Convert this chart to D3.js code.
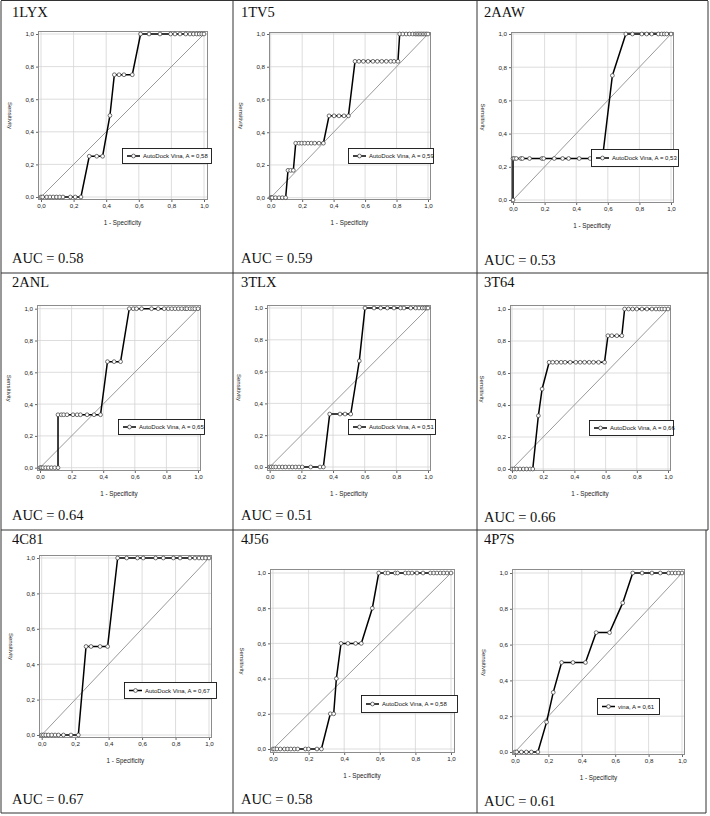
<!DOCTYPE html>
<html><head><meta charset="utf-8">
<script src="https://cdn.jsdelivr.net/npm/d3@7"></script>
<style>body{margin:0;background:#fff}svg{display:block}</style>
</head><body>
<svg id="c" width="710" height="816"></svg>
<script>
// ---------- DATA ----------
const panelNames = ["1LYX","1TV5","2AAW","2ANL","3TLX","3T64","4C81","4J56","4P7S"];
const aucLabels = ["AUC = 0.58","AUC = 0.59","AUC = 0.53","AUC = 0.64","AUC = 0.51","AUC = 0.66","AUC = 0.67","AUC = 0.58","AUC = 0.61"];
const legendLabels = ["AutoDock Vina, A = 0,58","AutoDock Vina, A = 0,59","AutoDock Vina, A = 0,53","AutoDock Vina, A = 0,65","AutoDock Vina, A = 0,51","AutoDock Vina, A = 0,66","AutoDock Vina, A = 0,67","AutoDock Vina, A = 0,58","vina, A = 0,61"];
const tickValues = [0,0.2,0.4,0.6,0.8,1.0];
const tickLabels = ["0,0","0,2","0,4","0,6","0,8","1,0"];
const xTitle = "1 - Specificity";
const yTitle = "Sensitivity";

const fpr1LYX = [0,0.01,0.035,0.055,0.075,0.095,0.115,0.135,0.18,0.21,0.245,0.296,0.342,0.378,0.423,0.45,0.479,0.509,0.56,0.611,0.663,0.73,0.795,0.822,0.853,0.888,0.914,0.935,0.955,0.971,0.986,1.0];
const tpr1LYX = [0,0,0,0,0,0,0,0,0,0,0,0.25,0.25,0.25,0.5,0.75,0.75,0.75,0.75,1,1,1,1,1,1,1,1,1,1,1,1,1];

const fpr1TV5 = [0,0.005,0.01,0.03,0.053,0.074,0.095,0.11,0.127,0.144,0.159,0.18,0.197,0.216,0.237,0.258,0.28,0.307,0.335,0.371,0.403,0.434,0.466,0.494,0.536,0.561,0.589,0.619,0.65,0.678,0.706,0.735,0.763,0.784,0.809,0.82,0.84,0.861,0.882,0.903,0.92,0.93,0.94,0.95,0.96,0.97,0.98,0.99,1.0];
const tpr1TV5 = [0,0,0,0,0,0,0,0.167,0.167,0.167,0.333,0.333,0.333,0.333,0.333,0.333,0.333,0.333,0.333,0.5,0.5,0.5,0.5,0.5,0.833,0.833,0.833,0.833,0.833,0.833,0.833,0.833,0.833,0.833,0.833,1,1,1,1,1,1,1,1,1,1,1,1,1,1];

const fpr2AAW = [0,0,0.008,0.021,0.05,0.06,0.105,0.183,0.194,0.261,0.314,0.352,0.419,0.488,0.53,0.566,0.629,0.714,0.756,0.815,0.846,0.878,0.92,0.941,0.958,0.973,1.0];
const tpr2AAW = [0,0.25,0.25,0.25,0.25,0.25,0.25,0.25,0.25,0.25,0.25,0.25,0.25,0.25,0.25,0.25,0.75,1,1,1,1,1,1,1,1,1,1];

const fpr2ANL = [0,0.008,0.019,0.036,0.053,0.072,0.093,0.114,0.114,0.135,0.15,0.171,0.209,0.235,0.256,0.298,0.342,0.383,0.427,0.469,0.51,0.565,0.59,0.611,0.643,0.706,0.748,0.786,0.812,0.834,0.855,0.876,0.897,0.918,0.93,0.95,0.966,0.98,1.0];
const tpr2ANL = [0,0,0,0,0,0,0,0,0.333,0.333,0.333,0.333,0.333,0.333,0.333,0.333,0.333,0.333,0.667,0.667,0.667,1,1,1,1,1,1,1,1,1,1,1,1,1,1,1,1,1,1];

const fpr3TLX = [0,0.01,0.023,0.038,0.059,0.08,0.1,0.122,0.143,0.164,0.185,0.206,0.259,0.318,0.339,0.379,0.444,0.476,0.512,0.566,0.602,0.659,0.701,0.743,0.785,0.827,0.848,0.891,0.922,0.943,0.964,0.979,0.992,1.0];
const tpr3TLX = [0,0,0,0,0,0,0,0,0,0,0,0,0,0,0,0.333,0.333,0.333,0.333,0.667,1,1,1,1,1,1,1,1,1,1,1,1,1,1];

const fpr3T64 = [0,0.013,0.03,0.051,0.073,0.094,0.116,0.133,0.169,0.193,0.238,0.261,0.287,0.315,0.34,0.373,0.409,0.437,0.465,0.495,0.522,0.555,0.593,0.615,0.64,0.672,0.704,0.722,0.747,0.773,0.8,0.833,0.865,0.897,0.923,0.944,0.961,0.979,1.0];
const tpr3T64 = [0,0,0,0,0,0,0,0,0.333,0.5,0.667,0.667,0.667,0.667,0.667,0.667,0.667,0.667,0.667,0.667,0.667,0.667,0.667,0.833,0.833,0.833,0.833,1,1,1,1,1,1,1,1,1,1,1,1];

const fpr4C81 = [0,0.01,0.024,0.04,0.06,0.08,0.1,0.13,0.175,0.219,0.265,0.295,0.349,0.394,0.454,0.508,0.572,0.607,0.681,0.727,0.787,0.827,0.886,0.916,0.94,0.96,0.98,1.0];
const tpr4C81 = [0,0,0,0,0,0,0,0,0,0,0.5,0.5,0.5,0.5,1,1,1,1,1,1,1,1,1,1,1,1,1,1];

const fpr4J56 = [0,0.009,0.022,0.041,0.064,0.082,0.1,0.12,0.139,0.182,0.2,0.247,0.272,0.322,0.341,0.356,0.382,0.421,0.464,0.496,0.558,0.594,0.631,0.646,0.687,0.7,0.743,0.762,0.781,0.809,0.843,0.884,0.903,0.921,0.94,0.959,0.978,1.0];
const tpr4J56 = [0,0,0,0,0,0,0,0,0,0,0,0,0,0.2,0.2,0.4,0.6,0.6,0.6,0.6,0.8,1,1,1,1,1,1,1,1,1,1,1,1,1,1,1,1,1];

const fpr4P7S = [0,0.01,0.038,0.068,0.098,0.137,0.189,0.229,0.279,0.347,0.422,0.486,0.566,0.645,0.705,0.761,0.82,0.87,0.92,0.94,0.96,0.98,1.0];
const tpr4P7S = [0,0,0,0,0,0,0.167,0.333,0.5,0.5,0.5,0.667,0.667,0.833,1,1,1,1,1,1,1,1,1];

const fprSeries = [fpr1LYX,fpr1TV5,fpr2AAW,fpr2ANL,fpr3TLX,fpr3T64,fpr4C81,fpr4J56,fpr4P7S];
const tprSeries = [tpr1LYX,tpr1TV5,tpr2AAW,tpr2ANL,tpr3TLX,tpr3T64,tpr4C81,tpr4J56,tpr4P7S];

// ---------- LAYOUT ----------
const layout = [
 {tx:12, ty:17, ay:263, box:[38,31,208,200], xr:[41,204], yr:[197,34], lg:[122,148,89,15]},
 {tx:241,ty:17, ay:263, box:[269,32,431,200], xr:[270.7,428], yr:[197.7,34], lg:[348,148,85,15]},
 {tx:484,ty:17, ay:265, box:[511,32,674,203], xr:[513,671], yr:[200,34], lg:[591,149,87,17]},
 {tx:12, ty:287,ay:520, box:[37,305,201,471], xr:[40,198], yr:[467.7,308.7], lg:[118,419,86,15]},
 {tx:241,ty:287,ay:520, box:[267,305,431,471], xr:[269.7,428], yr:[467,308], lg:[348,419,87,15]},
 {tx:484,ty:287,ay:522, box:[510,305,671,471], xr:[512,668], yr:[469,309], lg:[589,420,84,15]},
 {tx:12, ty:544,ay:804, box:[39,555,212,738], xr:[41.7,209], yr:[735,558], lg:[124,682,92,16]},
 {tx:241,ty:544,ay:804, box:[270,569,455,753], xr:[273,451], yr:[749,573], lg:[361,695,96,17]},
 {tx:484,ty:544,ay:806, box:[512,569,685,755], xr:[515,682], yr:[752,573], lg:[597,698,62,16]}
];

const svg = d3.select("#c");
const serif = "'Liberation Serif','Times New Roman',serif";
const sans = "'Liberation Sans',Arial,sans-serif";

// table grid
const tbl = svg.append("g").attr("stroke","#333").attr("stroke-width",1).attr("fill","none");
const hLines = [[0.5,1,708],[273,1,708],[530,1,708],[813,1,706]];
hLines.forEach(h=>tbl.append("line").attr("x1",h[1]).attr("x2",h[2]).attr("y1",h[0]).attr("y2",h[0]));
[[1,1,813],[233,1,813],[477,1,813],[708,1,530],[706,530,813]].forEach(v=>tbl.append("line").attr("x1",v[0]).attr("x2",v[0]).attr("y1",v[1]).attr("y2",v[2]));

panelNames.forEach((name,i)=>{
  const L = layout[i];
  const g = svg.append("g");
  const x = d3.scaleLinear().domain([0,1]).range(L.xr);
  const y = d3.scaleLinear().domain([0,1]).range(L.yr);
  const [bl,bt,br,bb] = L.box;

  g.append("text").attr("x",L.tx).attr("y",L.ty).attr("font-family",serif).attr("font-size",14.5).attr("fill","#111").text(name);
  g.append("text").attr("x",L.tx).attr("y",L.ay).attr("font-family",serif).attr("font-size",14.5).attr("fill","#111").text(aucLabels[i]);

  // plot background & grid
  g.append("rect").attr("x",bl).attr("y",bt).attr("width",br-bl).attr("height",bb-bt).attr("fill","#fff");
  const grid = g.append("g").attr("stroke","#d4d4d4").attr("stroke-width",0.8);
  tickValues.forEach(t=>{
    grid.append("line").attr("x1",x(t)).attr("x2",x(t)).attr("y1",bt).attr("y2",bb);
    grid.append("line").attr("y1",y(t)).attr("y2",y(t)).attr("x1",bl).attr("x2",br);
  });
  g.append("rect").attr("x",bl+0.5).attr("y",bt+0.5).attr("width",br-bl-1).attr("height",bb-bt-1).attr("fill","none").attr("stroke","#8c8c8c").attr("stroke-width",1);

  // axes via d3
  const xAxis = d3.axisBottom(x).tickValues(tickValues).tickFormat((d,k)=>tickLabels[k]).tickSize(2).tickPadding(2);
  const yAxis = d3.axisLeft(y).tickValues(tickValues).tickFormat((d,k)=>tickLabels[k]).tickSize(2).tickPadding(2);
  const gx = g.append("g").attr("transform",`translate(0,${bb})`).call(xAxis);
  const gy = g.append("g").attr("transform",`translate(${bl},0)`).call(yAxis);
  [gx,gy].forEach(a=>{
    a.select(".domain").remove();
    a.selectAll("line").attr("stroke","#666");
    a.selectAll("text").attr("font-family",sans).attr("font-size",6.2).attr("fill","#222");
  });

  g.append("text").attr("x",(L.xr[0]+L.xr[1])/2).attr("y",bb+25).attr("text-anchor","middle")
    .attr("font-family",sans).attr("font-size",6.3).attr("fill","#222").text(xTitle);
  const ycx = bl-30, ycy=(L.yr[0]+L.yr[1])/2;
  g.append("text").attr("transform",`translate(${ycx},${ycy}) rotate(90)`).attr("text-anchor","middle")
    .attr("font-family",sans).attr("font-size",6).attr("fill","#222").text(yTitle);

  // diagonal
  g.append("line").attr("x1",x(0)).attr("y1",y(0)).attr("x2",x(1)).attr("y2",y(1)).attr("stroke","#9a9a9a").attr("stroke-width",1);

  // ROC curve
  const pts = fprSeries[i].map((v,k)=>[v,tprSeries[i][k]]);
  g.append("path").datum(pts).attr("fill","none").attr("stroke","#000").attr("stroke-width",1.5)
    .attr("d",d3.line().x(d=>x(d[0])).y(d=>y(d[1])));
  g.selectAll("circle.pt").data(pts).join("circle").attr("class","pt")
    .attr("cx",d=>x(d[0])).attr("cy",d=>y(d[1])).attr("r",1.9)
    .attr("fill","#fff").attr("stroke","#333").attr("stroke-width",0.7);

  // legend
  const [lx,ly,lw,lh] = L.lg;
  g.append("rect").attr("x",lx+0.5).attr("y",ly+0.5).attr("width",lw).attr("height",lh).attr("fill","#fff").attr("stroke","#111").attr("stroke-width",0.9);
  const cy = ly+lh/2+0.5;
  g.append("line").attr("x1",lx+5).attr("x2",lx+18).attr("y1",cy).attr("y2",cy).attr("stroke","#000").attr("stroke-width",1.5);
  g.append("circle").attr("cx",lx+11.5).attr("cy",cy).attr("r",1.9).attr("fill","#fff").attr("stroke","#333").attr("stroke-width",0.7);
  g.append("text").attr("x",lx+21).attr("y",cy).attr("dy","0.35em").attr("font-family",sans).attr("font-size",6).attr("fill","#111").text(legendLabels[i]);
});
</script>
</body></html>
